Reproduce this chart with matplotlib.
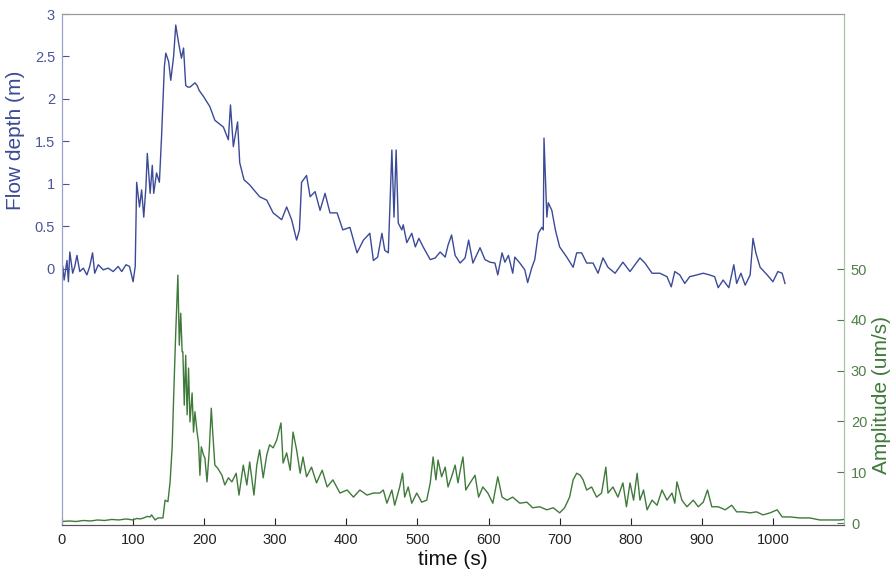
import numpy as np
import matplotlib
matplotlib.use("Agg")
import matplotlib.pyplot as plt

plt.rcParams['font.family'] = ['Liberation Sans', 'DejaVu Sans']

blue = '#3b4a98'
green = '#3f7a3a'

# flow depth (m)
depth_t = [1, 3, 7, 9, 11, 15, 18, 21, 25, 30, 35, 39, 43, 46, 51, 58, 65, 72, 79, 84,
           90, 95, 100, 103, 105, 109, 112, 115, 118, 120, 124, 127, 129, 133, 137, 140,
           144, 146, 150, 153, 157, 160, 164, 168, 171, 174, 177, 180, 187, 190, 193, 199,
           208, 215, 227, 234, 237, 241, 247, 250, 256, 264, 278, 288, 297, 309, 316, 323,
           330, 334, 337, 344, 349, 356, 363, 370, 377, 387, 395, 405, 415, 424, 433, 438,
           444, 450, 454, 459, 464, 467, 470, 473, 478, 480, 485, 492, 497, 502, 508, 518,
           525, 532, 539, 543, 548, 553, 560, 567, 572, 578, 588, 595, 602, 609, 613, 619,
           623, 628, 634, 637, 644, 651, 655, 661, 665, 670, 675, 677, 678, 682, 684, 689,
           694, 700, 710, 719, 724, 731, 738, 747, 754, 761, 768, 778, 789, 799, 813, 820,
           830, 841, 851, 857, 862, 869, 876, 883, 893, 902, 911, 918, 923, 930, 938, 945,
           949, 955, 961, 968, 972, 976, 982, 992, 1000, 1007, 1013, 1017]
depth = [0.03, -0.13, 0.1, -0.15, 0.2, -0.05, 0.03, 0.16, -0.03, 0.01, -0.07, 0.03, 0.19,
         -0.05, 0.05, -0.01, 0.01, -0.03, 0.03, -0.03, 0.05, 0.03, -0.15, 0.03, 1.02, 0.73,
         0.93, 0.61, 0.96, 1.36, 0.89, 1.22, 0.89, 1.13, 1.02, 1.55, 2.38, 2.54, 2.44, 2.22,
         2.5, 2.87, 2.66, 2.48, 2.6, 2.16, 2.14, 2.14, 2.19, 2.16, 2.1, 2.03, 1.91, 1.75,
         1.67, 1.52, 1.93, 1.44, 1.73, 1.25, 1.05, 0.99, 0.85, 0.81, 0.66, 0.58, 0.73, 0.58,
         0.34, 0.46, 1.02, 1.1, 0.85, 0.91, 0.69, 0.89, 0.66, 0.66, 0.46, 0.49, 0.19, 0.34,
         0.42, 0.1, 0.14, 0.42, 0.22, 0.19, 1.4, 0.61, 1.4, 0.54, 0.46, 0.52, 0.31, 0.42,
         0.26, 0.36, 0.26, 0.11, 0.13, 0.2, 0.14, 0.28, 0.4, 0.16, 0.07, 0.13, 0.34, 0.07,
         0.25, 0.11, 0.08, 0.07, -0.07, 0.19, 0.08, 0.16, -0.05, 0.14, 0.07, -0.01, -0.16,
         0.02, 0.11, 0.42, 0.49, 0.46, 1.54, 0.61, 0.78, 0.69, 0.46, 0.26, 0.14, 0.02, 0.19,
         0.19, 0.07, 0.07, -0.05, 0.13, 0.02, -0.05, 0.08, -0.03, 0.13, 0.07, -0.05, -0.05,
         -0.09, -0.21, -0.03, -0.07, -0.17, -0.09, -0.07, -0.05, -0.07, -0.09, -0.22, -0.13,
         -0.22, 0.05, -0.17, -0.05, -0.19, -0.07, 0.36, 0.19, 0.02, -0.07, -0.15, -0.03,
         -0.05, -0.17]

# seismic amplitude (um/s)
amp_t = [0, 10, 20, 30, 40, 50, 60, 70, 80, 90, 100, 105, 110, 115, 120, 124, 126, 131,
         135, 142, 145, 149, 152, 155, 157, 160, 163, 165, 167, 169, 170, 172, 174, 176,
         178, 180, 183, 185, 187, 190, 192, 194, 196, 199, 201, 204, 207, 210, 212, 215,
         219, 225, 229, 234, 239, 245, 249, 255, 260, 264, 270, 274, 278, 283, 288, 292,
         297, 302, 308, 311, 316, 321, 325, 330, 335, 339, 344, 351, 358, 366, 373, 381,
         391, 401, 410, 419, 429, 438, 447, 452, 457, 464, 468, 475, 479, 482, 487, 492,
         499, 506, 513, 518, 522, 526, 529, 534, 539, 543, 548, 553, 557, 561, 564, 568,
         574, 581, 586, 592, 599, 606, 613, 619, 626, 634, 644, 654, 662, 672, 682, 691,
         700, 707, 714, 719, 724, 729, 733, 738, 745, 752, 759, 765, 768, 775, 782, 789,
         794, 799, 804, 809, 813, 818, 823, 830, 837, 844, 851, 858, 862, 865, 872, 879,
         888, 895, 902, 908, 914, 923, 933, 942, 949, 958, 968, 977, 986, 996, 1006, 1013,
         1024, 1038, 1052, 1066, 1080, 1094, 1100]
amp = [0.3, 0.4, 0.3, 0.5, 0.4, 0.6, 0.5, 0.7, 0.6, 0.8, 0.6, 0.9, 0.8, 1.0, 1.3, 1.2, 1.6,
       0.6, 1.0, 1.0, 4.5, 4.2, 8.0, 15, 24.6, 37.6, 48.8, 35, 41.3, 33.7, 33.7, 23.2, 33,
       21.3, 30.5, 19.9, 25.6, 17.9, 21.9, 17.9, 15.9, 9.4, 15, 13.4, 12.8, 8.1, 14, 22.6,
       17.9, 11.4, 10.8, 9.4, 7.5, 8.9, 8.1, 9.8, 5.5, 11.4, 7.5, 12, 5.5, 11.4, 14.4, 8.9,
       13.4, 15.4, 14.8, 16.3, 19.7, 11.8, 13.8, 10.4, 17.9, 14.4, 9.8, 13, 9.1, 11, 7.9,
       10.4, 7.1, 8.5, 5.9, 6.5, 5.1, 6.5, 5.5, 5.9, 5.9, 6.5, 3.9, 6.5, 3.5, 7.1, 9.8, 5.1,
       7.1, 3.9, 5.9, 4.1, 4.5, 7.9, 13, 8.5, 12.4, 9.1, 11, 7.1, 9.1, 11.4, 7.9, 11, 13,
       6.5, 7.9, 9.4, 5.1, 7.1, 5.9, 3.9, 9.1, 5.1, 4.5, 5.1, 3.9, 4.1, 3.0, 3.2, 2.6, 3.0,
       2.0, 3.0, 5.1, 8.5, 9.8, 9.4, 8.5, 6.5, 7.1, 5.1, 5.9, 11, 5.9, 7.1, 5.1, 7.9, 3.2,
       7.9, 4.5, 9.8, 4.5, 6.5, 2.6, 4.5, 3.5, 6.5, 4.5, 5.9, 3.9, 8.1, 4.5, 3.2, 4.5, 3.2,
       4.1, 6.5, 3.2, 3.2, 2.6, 3.5, 2.2, 2.2, 2.0, 2.2, 1.6, 2.0, 2.6, 1.2, 1.2, 1.0, 1.0,
       0.6, 0.6, 0.6, 0.7]

depth_ticks = [0, 0.5, 1, 1.5, 2, 2.5, 3]
depth_labels = ['0', '0.5', '1', '1.5', '2', '2.5', '3']
amp_ticks = [0, 10, 20, 30, 40, 50]
time_ticks = [0, 100, 200, 300, 400, 500, 600, 700, 800, 900, 1000]

fig = plt.figure(figsize=(8.93, 5.70), dpi=100)
ax = fig.add_axes([62 / 893, 45 / 570, 782 / 893, 511 / 570])
ax2 = ax.twinx()

ax.plot(depth_t, depth, color=blue, lw=1.0)
ax2.plot(amp_t, amp, color=green, lw=1.0)

ax.set_xlim(0, 1100)
ax.set_ylim(-3.012, 3)
ax2.set_ylim(-0.39, 100.2)

ax.set_xticks(time_ticks)
ax.set_yticks(depth_ticks)
ax.set_yticklabels(depth_labels)
ax2.set_yticks(amp_ticks)

ax.tick_params(axis='x', direction='in', length=5, labelsize=10.5, colors='#222222', pad=6)
ax.tick_params(axis='y', direction='in', length=5, labelsize=10.5, colors='#4a559a', pad=5)
ax2.tick_params(axis='y', direction='in', length=5, labelsize=10.5, colors='#4f7f4a', pad=5)

for a in (ax, ax2):
    a.spines['top'].set_color('#9a9a9a')
    a.spines['bottom'].set_color('#555555')
    a.spines['left'].set_color('#9aa0c8')
    a.spines['right'].set_color('#a8c4a8')

ax.set_xlabel('time (s)', fontsize=15, color='#111111', labelpad=2)
ax.set_ylabel('Flow depth (m)', fontsize=15, color=blue)
ax.yaxis.set_label_coords(-0.047, 0.753)
ax2.set_ylabel('Amplitude (um/s)', fontsize=15, color=green)
ax2.yaxis.set_label_coords(1.036, 0.254)

fig.savefig('out.png', dpi=100)
